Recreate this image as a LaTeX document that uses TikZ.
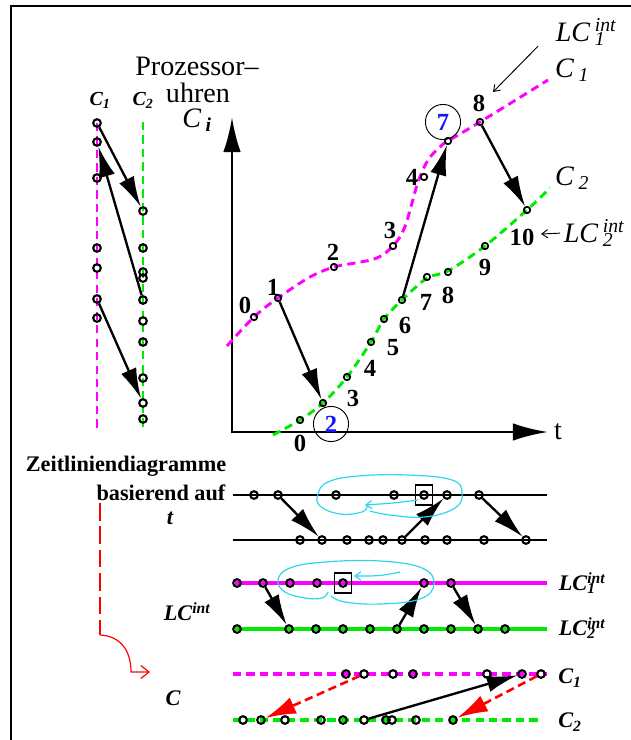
\documentclass[tikz,border=0pt]{standalone}
\usepackage{fontspec}
\setmainfont{Liberation Serif}
\usepackage{tikz}
\usetikzlibrary{arrows.meta, positioning}
\definecolor{magentaclk}{RGB}{255, 0, 255}
\definecolor{greenclk}{RGB}{0, 235, 0}
\definecolor{cyanlasso}{RGB}{40, 215, 235}
\definecolor{bluenum}{RGB}{20, 20, 255}
\newcommand{\subsup}[2]{\rlap{\textsubscript{#1}}\textsuperscript{#2}}

\begin{document}
\begin{tikzpicture}[x=0.3mm, y=-0.3mm,
  every node/.style={inner sep=0pt},
  dot/.style={circle, draw, line width=1.8pt, minimum size=6.5pt},
  sdot/.style={circle, draw, line width=1.5pt, minimum size=5.5pt},
  arr/.style={line width=2pt, -{Latex[length=26pt, width=14pt]}},
  axis/.style={line width=2.5pt, -{Latex[length=30pt, width=15pt]}},
  thinarr/.style={line width=0.8pt, -{Straight Barb[length=5pt, width=7pt]}},
  reddash/.style={red, line width=2.2pt, dash pattern=on 7pt off 4pt, -{Latex[length=26pt, width=15pt]}},
  c1line/.style={magentaclk, line width=2.5pt, dash pattern=on 7pt off 4.5pt},
  c2line/.style={greenclk, line width=2.5pt, dash pattern=on 7pt off 4.5pt},
  lcline/.style={line width=3pt},
  tline/.style={line width=1pt},
  lasso/.style={cyanlasso, line width=1pt},
  num/.style={font=\fontsize{21}{21}\selectfont\bfseries},
  cnum/.style={circle, draw, line width=0.8pt, minimum size=30pt, text=bluenum, font=\fontsize{21}{21}\selectfont\bfseries},
  big/.style={font=\fontsize{24}{26}\selectfont},
  bigit/.style={font=\fontsize{24}{26}\selectfont\itshape},
  smallit/.style={font=\fontsize{17}{19}\selectfont\bfseries\itshape},
  lab/.style={font=\fontsize{19}{21}\selectfont\bfseries},
  labit/.style={font=\fontsize{19}{21}\selectfont\bfseries\itshape},
  boxmark/.style={draw, line width=1pt, minimum width=15pt, minimum height=17pt}]
\useasboundingbox (0,0) rectangle (631,740);
\draw[line width=1.2pt] (631,6) -- (11,6) -- (11,740);

% Prozessoruhren nebeneinander
\begin{scope}
\node[smallit] (c1top) at (100,100) {C\textsubscript{1}};
\node[smallit] (c2top) at (143,100) {C\textsubscript{2}};
\draw[c1line] (97,123) -- (97,430);
\draw[c2line] (143,122) -- (143,430);
\foreach \y [count=\i] in {123,142,178,248,268,299,318}
  \node[dot] (pa\i) at (97,\y) {};
\foreach \y [count=\i] in {211,248,272,278,300,321,342,378,403,419}
  \node[dot] (pb\i) at (143,\y) {};
\draw[arr] (pa1) -- (pb1);
\draw[arr] (pb5) -- (pa2);
\draw[arr] (pa6) -- (pb9);
\end{scope}

% Uhren ueber der Zeit
\begin{scope}
\node[big] (proz) at (197,66) {Prozessor–};
\node[big] (uhren) at (198,93) {uhren};
\node[bigit] (ci) at (197,120) {C\,\textsubscript{\textbf{i}}};
\coordinate (orig) at (232,432);
\coordinate (ytip) at (232,117);
\coordinate (xtip) at (548,432);
\draw[axis] ([yshift=-1.25pt]orig) -- (ytip);
\draw[axis] (orig) -- (xtip);
\node[big, right=5pt of xtip] (tax) {t};
\draw[c1line] plot[smooth, tension=0.6] coordinates {(227,346) (254,317) (278,298) (310,277) (334,267) (355,263) (377,258) (393,246) (404,229) (412,203) (418,182) (428,160) (441,146) (448,141) (480,122) (548,80)};
\draw[c2line] plot[smooth, tension=0.5] coordinates {(273,435) (300,420) (323,403) (347,377) (371,342) (384,319) (402,300) (427,278) (448,271) (485,246) (527,210) (550,188)};
\foreach \n/\x/\y in {0/254/317, 1/278/298, 2/334/267, 3/393/246, 4/424/177, 7/448/141, 8/480/122}
  \node[sdot] (m\n) at (\x,\y) {};
\foreach \n/\x/\y in {0/300/420, 2/323/403, 3/347/377, 4/371/342, 5/384/319, 6/402/300, 7/427/277, 8/448/272, 9/485/246, 10/527/210}
  \node[sdot] (g\n) at (\x,\y) {};
\foreach \n/\x/\y in {0/245/305, 1/273/287, 2/333/252, 3/390/230, 4/412/177, 8/479/103}
  \node[num] (mn\n) at (\x,\y) {\n};
\foreach \n/\x/\y in {0/300/443, 3/353/398, 4/370/368, 5/393/348, 6/405/325, 7/426/302, 8/448/295, 9/485/267, 10/522/237}
  \node[num] (gn\n) at (\x,\y) {\n};
\node[cnum] (mn7) at (443,122) {7};
\node[cnum] (gn2) at (331,424) {2};
\draw[arr] (m1) -- (g2);
\draw[arr] (g6) -- (m7);
\draw[arr] (m8) -- (g10);
\node[bigit] (lc1) at (586,32) {LC\,\subsup{1}{int}};
\node[bigit] (c1r) at (572,70) {C\,\textsubscript{1}};
\node[bigit] (c2r) at (572,178) {C\,\textsubscript{2}};
\node[bigit] (lc2) at (594,233) {LC\,\subsup{2}{int}};
\coordinate (lc1head) at (493,92);
\coordinate (lc2head) at (541,234);
\draw[thinarr] ([xshift=-15pt]lc1.south west) -- (lc1head);
\draw[thinarr, shorten <=3pt] (lc2.west) -- (lc2head);
\end{scope}

% Zeitliniendiagramme
\node[lab] (zld) at (126,466) {Zeitliniendiagramme};
\node[lab] (basis) at (161,493) {basierend auf};
\node[labit] (tl) at (170,518) {t};
\node[labit] (lcl) at (187,612) {LC\textsuperscript{int}};
\node[labit] (cl) at (173,698) {C};
\coordinate (rtop) at (100,503);
\coordinate (rmid) at (100,635);
\coordinate (rend) at (150,672);
\draw[red, line width=1pt, dash pattern=on 15pt off 5pt] (rtop) -- (rmid);
\draw[red, line width=1pt, -{Straight Barb[length=7pt, width=11pt]}] (rmid) .. controls (120,636) and (131,650) .. (131,672) -- (rend);

\draw[tline] (233,495) -- (547,495);
\draw[tline] (233,540) -- (547,540);
\foreach \x [count=\i] in {254,278,336,394,424,447,479}
  \node[dot] (ta\i) at (\x,495) {};
\foreach \x [count=\i] in {300,322,347,369,383,402,425,447,484,526}
  \node[dot] (tb\i) at (\x,540) {};
\draw[arr] (ta2) -- (tb2);
\draw[arr] (tb6) -- (ta6);
\draw[arr] (ta7) -- (tb10);
\node[boxmark] (box1) at (ta5) {};
\draw[lasso] plot[smooth, tension=0.7] coordinates {(367,506) (362,512) (340,514) (320,506) (318,494) (328,482) (358,476) (408,475) (452,480) (462,493) (455,508) (425,517) (390,515) (370,511)};
\draw[lasso, -{Straight Barb[length=5pt, width=7pt]}] (418,500) .. controls (395,503) .. (365,505);

\draw[magentaclk, lcline] (235,583) -- (547,583);
\draw[greenclk, lcline] (235,629) -- (547,629);
\foreach \x [count=\i] in {237,263,290,317,343,424,451}
  \node[dot] (la\i) at (\x,583) {};
\foreach \x [count=\i] in {237,289,316,343,370,397,424,451,478,505}
  \node[dot] (lb\i) at (\x,629) {};
\draw[arr] (la2) -- (lb2);
\draw[arr] (lb6) -- (la6);
\draw[arr] (la7) -- (lb9);
\node[boxmark] (box2) at (la5) {};
\draw[lasso] plot[smooth, tension=0.7] coordinates {(328,592) (322,598) (305,598) (285,592) (278,580) (290,568) (325,562) (380,561) (422,568) (434,584) (420,599) (380,604) (345,602) (331,596)};
\draw[lasso, -{Straight Barb[length=5pt, width=7pt]}] (400,572) .. controls (380,576) .. (354,576);
\node[labit] (lc1b) at (582,583) {LC\subsup{1}{int}};
\node[labit] (lc2b) at (582,628) {LC\subsup{2}{int}};

\draw[c1line, line width=3pt] (233,674) -- (547,674);
\draw[c2line, line width=3pt] (233,720) -- (542,720);
\foreach \x [count=\i] in {346,364,393,413,487,522,541}
  \node[dot] (ca\i) at (\x,674) {};
\foreach \x [count=\i] in {243,261,285,321,343,364,386,392,416,453}
  \node[dot] (cb\i) at (\x,720) {};
\draw[arr] (cb6) -- (ca6);
\draw[reddash] (ca2) -- (cb2);
\draw[reddash] (ca7) -- (cb10);
\node[labit] (c1b) at (570,678) {C\textsubscript{1}};
\node[labit] (c2b) at (570,722) {C\textsubscript{2}};
\end{tikzpicture}
\end{document}
